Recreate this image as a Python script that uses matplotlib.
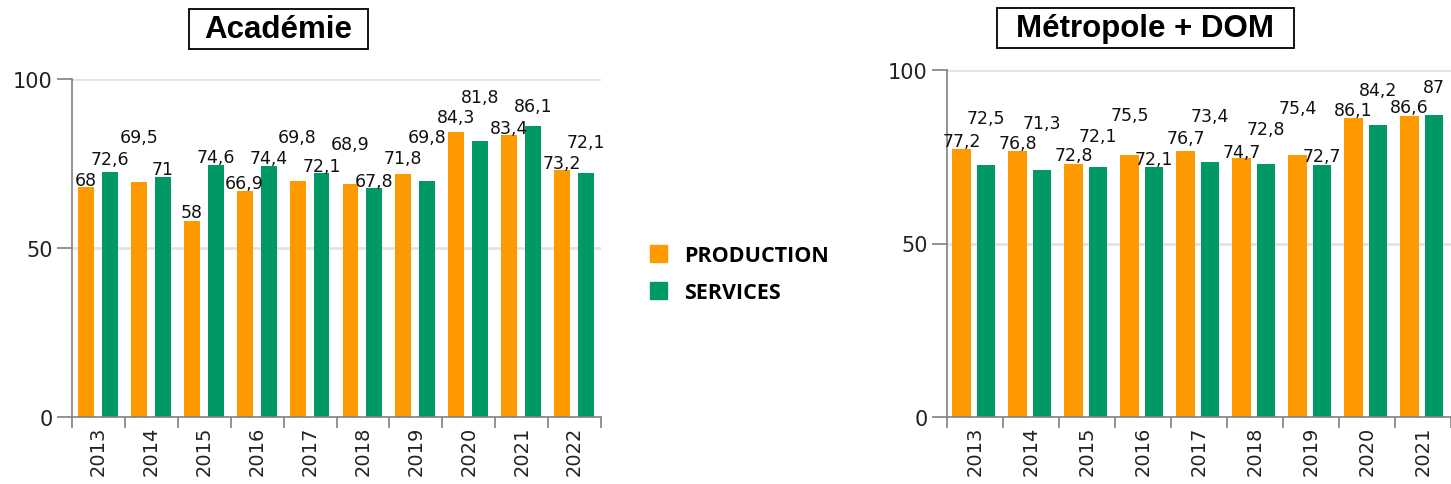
import matplotlib
matplotlib.use("Agg")
import matplotlib.pyplot as plt
from matplotlib.patches import Patch, Rectangle

# donnees
annees_aca = ["2013", "2014", "2015", "2016", "2017", "2018", "2019", "2020", "2021", "2022"]
prod_aca = [68, 69.5, 58, 66.9, 69.8, 68.9, 71.8, 84.3, 83.4, 73.2]
serv_aca = [72.6, 71, 74.6, 74.4, 72.1, 67.8, 69.8, 81.8, 86.1, 72.1]

annees_met = ["2013", "2014", "2015", "2016", "2017", "2018", "2019", "2020", "2021"]
prod_met = [77.2, 76.8, 72.8, 75.5, 76.7, 74.7, 75.4, 86.1, 86.6]
serv_met = [72.5, 71.3, 72.1, 72.1, 73.4, 72.8, 72.7, 84.2, 87]

# decalage des etiquettes (px au-dessus de la barre)
dec_prod_aca = [7, 45, 9, 8, 44, 40, 16, 15, 7, 7]
dec_serv_aca = [13, 8, 8, 8, 7, 7, 44, 44, 20, 31]
dec_prod_met = [8, 8, 9, 40, 13, 6, 47, 8, 9]
dec_serv_met = [47, 47, 31, 8, 46, 35, 9, 35, 28]

ORANGE = "#FF9900"
VERT = "#009966"
GRIS = "#808080"

W, H = 1451, 485
fig = plt.figure(figsize=(W / 100, H / 100), dpi=100)


def fmt(v):
    s = ("%.1f" % v).replace(".", ",")
    return s[:-2] if s.endswith(",0") else s


def graphe(ax, annees, prod, serv, dec_p, dec_s, pos_o, pos_v, larg):
    n = len(annees)
    xs = list(range(n))
    xo = [x + pos_o for x in xs]
    xv = [x + pos_v for x in xs]
    ax.bar(xo, prod, width=larg, color=ORANGE, zorder=2)
    ax.bar(xv, serv, width=larg, color=VERT, zorder=2)
    for x, v, d in zip(xo, prod, dec_p):
        ax.annotate(fmt(v), (x, v), xytext=(0, d * 0.72), textcoords="offset points",
                    ha="center", va="center", fontsize=12.5, color="#111111", annotation_clip=False)
    for x, v, d in zip(xv, serv, dec_s):
        ax.annotate(fmt(v), (x, v), xytext=(0, d * 0.72), textcoords="offset points",
                    ha="center", va="center", fontsize=12.5, color="#111111", annotation_clip=False)
    ax.set_xlim(0, n)
    ax.set_ylim(0, 100)
    ax.set_yticks([0, 50, 100])
    ax.set_xticks(range(n + 1))
    ax.set_xticklabels([])
    ax.set_xticks([x + 0.5 for x in xs], minor=True)
    ax.set_xticklabels(annees, minor=True, rotation=90, fontsize=14, color="#222222")
    ax.tick_params(axis="x", which="major", length=8, width=1.2, color=GRIS)
    ax.tick_params(axis="x", which="minor", length=0, pad=6)
    ax.tick_params(axis="y", length=11, width=1.2, color=GRIS, labelsize=15,
                   labelcolor="#222222", pad=3)
    for s in ["top", "right"]:
        ax.spines[s].set_visible(False)
    for s in ["left", "bottom"]:
        ax.spines[s].set_color(GRIS)
        ax.spines[s].set_linewidth(1.2)
    for y in [50, 100]:
        ax.axhline(y, color="#e3e3e3", lw=2, zorder=0)


ax1 = fig.add_axes([72 / W, 1 - 418 / H, 529 / W, 338 / H])
graphe(ax1, annees_aca, prod_aca, serv_aca, dec_prod_aca, dec_serv_aca, 0.264, 0.717, 0.30)

ax2 = fig.add_axes([947 / W, 1 - 418 / H, 504 / W, 347 / H])
graphe(ax2, annees_met, prod_met, serv_met, dec_prod_met, dec_serv_met, 0.259, 0.696, 0.33)

# titres encadres
for (x0, y0, x1, y1, txt) in [(189, 10, 368, 50, "Académie"), (997, 9, 1294, 49, "Métropole + DOM")]:
    fig.patches.append(Rectangle((x0 / W, 1 - y1 / H), (x1 - x0) / W, (y1 - y0) / H,
                                 transform=fig.transFigure, fill=False, ec="black", lw=1.3))
    fig.text((x0 + x1) / 2 / W, 1 - (y0 + y1) / 2 / H, txt, ha="center", va="center",
             fontsize=22.5, fontweight="bold", family="Liberation Sans")

# legende
poignees = [Patch(color=ORANGE, label="PRODUCTION"), Patch(color=VERT, label="SERVICES")]
fig.legend(handles=poignees, loc="upper left", bbox_to_anchor=(650 / W, 1 - 246 / H),
           frameon=False, borderpad=0, borderaxespad=0, handlelength=0.8, handleheight=0.8,
           handletextpad=0.8, labelspacing=0.75,
           prop={"family": "Open Sans", "weight": "bold", "size": 15.5})

plt.savefig("out.png", dpi=100)
